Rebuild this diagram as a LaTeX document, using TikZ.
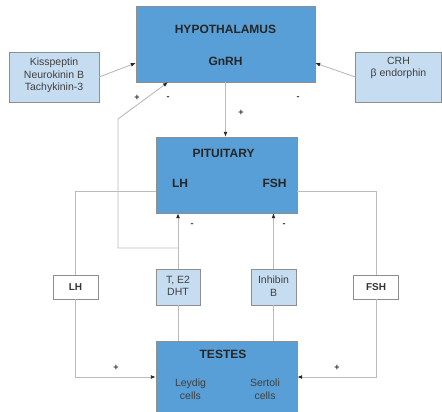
\documentclass[tikz,border=0pt]{standalone}
\usepackage{fontspec}
\setmainfont{Liberation Sans}
\usetikzlibrary{arrows.meta}
\definecolor{organ}{HTML}{579FD6}
\definecolor{factor}{HTML}{C6DCF0}
\definecolor{wiregray}{HTML}{BBBBBB}
\definecolor{framegray}{HTML}{8E8E8E}
\begin{document}
\begin{tikzpicture}[x=1pt,y=-1pt,
  organbox/.style={draw=framegray,fill=organ,inner sep=0pt},
  factorbox/.style={draw=framegray,fill=factor,inner sep=0pt},
  hormonebox/.style={draw=framegray,fill=white,inner sep=0pt},
  head/.style={font=\fontsize{12}{14}\selectfont\bfseries,text=black!85},
  small head/.style={font=\fontsize{10}{12}\selectfont\bfseries,text=black!80},
  lab/.style={font=\fontsize{10.5}{12.5}\selectfont,text=black!75,align=center},
  wire/.style={draw=wiregray,line width=0.9pt},
  feed/.style={wire,-{Latex[length=5pt,width=4pt,color=black!85]}},
  sign/.style={font=\fontsize{9}{9}\selectfont\bfseries,text=black!80}]
\useasboundingbox (0,0) rectangle (442,412);
% organs
\node[organbox,minimum width=179pt,minimum height=76pt] (hyp) at (225.5,44) {};
\node[head] (hypname) at (225.5,29) {HYPOTHALAMUS};
\node[head] (gnrh) at (225.5,61) {GnRH};
\node[organbox,minimum width=141pt,minimum height=76pt] (pit) at (226.5,175) {};
\node[head] (pitname) at (223.5,153) {PITUITARY};
\node[head] (pitlh) at (180,183) {LH};
\node[head] (pitfsh) at (274.5,183) {FSH};
\node[organbox,minimum width=141pt,minimum height=80pt] (testes) at (226.5,381) {};
\node[head] (testesname) at (223,354) {TESTES};
\node[lab] (leydig) at (190.5,389) {Leydig\\cells};
\node[lab] (sertoli) at (265,389) {Sertoli\\cells};
% modulators
\node[factorbox,minimum width=90pt,minimum height=50pt] (kiss) at (54,77) {};
\node[lab] (kisstext) at (54,75.5) {Kisspeptin\\Neurokinin B\\Tachykinin-3};
\node[factorbox,minimum width=86pt,minimum height=50pt] (crh) at (398.5,77) {};
\node[lab] (crhtext) at (398.5,68) {CRH\\β endorphin};
% hormones
\node[hormonebox,minimum width=45pt,minimum height=24pt] (lhbox) at (75.5,287) {};
\node[small head] (lhtext) at (75.5,287) {LH};
\node[factorbox,minimum width=44pt,minimum height=36pt] (tbox) at (178,287) {};
\node[lab] (ttext) at (178,286) {T, E2\\DHT};
\node[factorbox,minimum width=45pt,minimum height=36pt] (inhbox) at (273.5,287) {};
\node[lab] (inhtext) at (273.5,286) {Inhibin\\B};
\node[hormonebox,minimum width=45pt,minimum height=24pt] (fshbox) at (376,287) {};
\node[small head] (fshtext) at (376,287) {FSH};
% connectors
\draw[feed] (kiss.east) -- ([yshift=-19pt]hyp.west);
\draw[feed] (crh.west) -- ([yshift=-19pt]hyp.east);
\draw[feed] (hyp.south) -- (hyp.south |- pit.north);
\draw[wire] ([yshift=-16pt]pit.west) -| (lhbox.north);
\draw[feed] (lhbox.south) |- ([yshift=4pt]testes.west);
\draw[wire] ([yshift=-16pt]pit.east) -| (fshbox.north);
\draw[feed] (fshbox.south) |- ([yshift=4pt]testes.east);
\draw[wire] (tbox.south) -- (tbox.south |- testes.north);
\draw[feed] (tbox.north) -- (tbox.north |- pit.south);
\draw[wire] (inhbox.south) -- (inhbox.south |- testes.north);
\draw[feed] (inhbox.north) -- (inhbox.north |- pit.south);
\coordinate (fork) at (178,248);
\coordinate (bend) at (118,119);
\draw[feed] (fork) -| (bend) -- ([xshift=-57.5pt]hyp.south);
% signs
\node[sign] (plus1) at (137,98) {+};
\node[sign] (minus1) at (168,98) {-};
\node[sign] (minus2) at (298,98) {-};
\node[sign] (plus2) at (241,113) {+};
\node[sign] (minus3) at (192,225) {-};
\node[sign] (minus4) at (284,225) {-};
\node[sign] (plus3) at (116,368) {+};
\node[sign] (plus4) at (337,368) {+};
\end{tikzpicture}
\end{document}
